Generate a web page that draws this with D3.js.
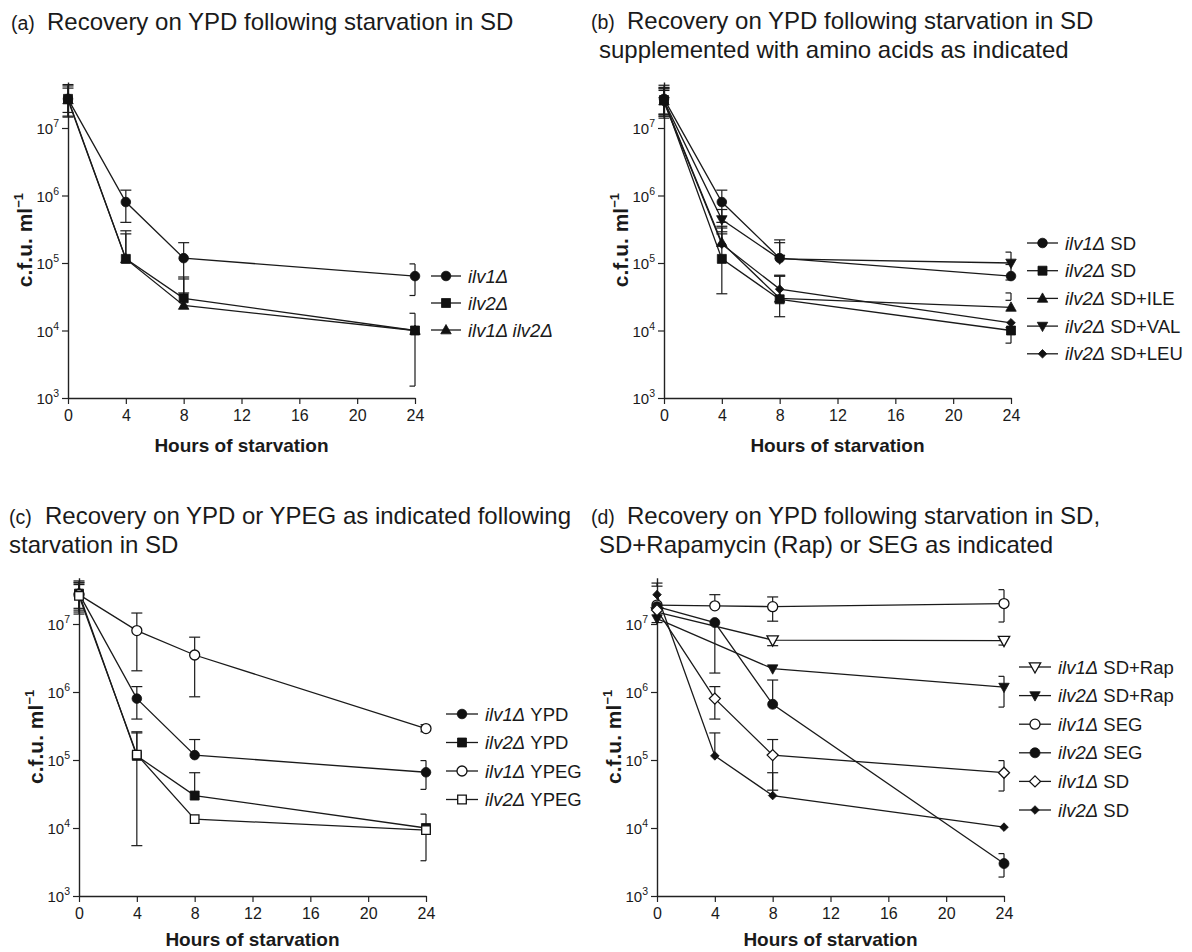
<!DOCTYPE html>
<html><head><meta charset="utf-8">
<script src="https://cdn.jsdelivr.net/npm/d3@7"></script>
<style>
body{margin:0;background:#fff}
text{font-family:"Liberation Sans",Arial,sans-serif;fill:#1a1a1a}
</style>
</head><body>
<svg id="c" width="1192" height="952"></svg>
<script>
// ---------- shared ----------
const hours = [0, 4, 8, 24];
const hoursRap = [0, 8, 24];
const xTicks = [0, 4, 8, 12, 16, 20, 24];
const yTickExps = [3, 4, 5, 6, 7];
const xLabel = "Hours of starvation";

// ---------- panel (a) ----------
const aTag = "(a)";
const aTitle = ["Recovery on YPD following starvation in SD"];
const a_ilv1    = [2.7e7, 8.0e5, 1.18e5, 6.4e4];
const a_ilv1_hi = [4.2e7, 1.2e6, 2.0e5, 9.7e4];
const a_ilv1_lo = [1.5e7, 4.0e5, 3.6e4, 3.3e4];
const a_ilv2    = [2.7e7, 1.15e5, 3.0e4, 1.0e4];
const a_ilv2_hi = [3.9e7, 3.0e5, 6.2e4, 1.8e4];
const a_ilv2_lo = [1.45e7, null, null, 1.5e3];
const a_dbl     = [2.6e7, 1.15e5, 2.35e4, 1.0e4];
const a_dbl_hi  = [4.4e7, 2.7e5, 5.8e4, null];
const a_dbl_lo  = [1.7e7, null, null, null];

// ---------- panel (b) ----------
const bTag = "(b)";
const bTitle = ["Recovery on YPD following starvation in SD", "supplemented with amino acids as indicated"];
const b_ilv1    = [2.7e7, 8.0e5, 1.18e5, 6.4e4];
const b_ilv1_hi = [4.3e7, 1.2e6, 2.2e5, 9.5e4];
const b_ilv1_lo = [1.5e7, 4.0e5, null, 5.6e4];
const b_ilv2    = [2.6e7, 1.15e5, 2.9e4, 1.0e4];
const b_ilv2_hi = [4.0e7, 3.5e5, 6.6e4, 1.1e4];
const b_ilv2_lo = [1.4e7, 3.5e4, 1.6e4, 6.5e3];
const b_ile     = [2.5e7, 2.0e5, 3.0e4, 2.2e4];
const b_ile_hi  = [3.8e7, 3.3e5, 6.4e4, 3.6e4];
const b_ile_lo  = [1.5e7, null, null, 2.8e4];
const b_val     = [2.5e7, 4.4e5, 1.15e5, 1.0e5];
const b_val_hi  = [3.9e7, 6.2e5, 2.0e5, 1.45e5];
const b_val_lo  = [1.6e7, 2.9e5, null, null];
const b_leu     = [2.4e7, 1.9e5, 4.1e4, 1.3e4];
const b_leu_hi  = [3.6e7, 2.7e5, 6.4e4, null];
const b_leu_lo  = [1.6e7, null, null, null];

// ---------- panel (c) ----------
const cTag = "(c)";
const cTitle = ["Recovery on YPD or YPEG as indicated following", "starvation in SD"];
const c_ypd1    = [2.8e7, 8.0e5, 1.18e5, 6.6e4];
const c_ypd1_hi = [4.3e7, 1.2e6, 2.0e5, 9.8e4];
const c_ypd1_lo = [1.5e7, 4.0e5, null, 3.7e4];
const c_ypd2    = [2.8e7, 1.15e5, 3.0e4, 1.0e4];
const c_ypd2_hi = [4.0e7, 2.5e5, 6.5e4, 1.6e4];
const c_ypd2_lo = [1.4e7, 5.5e3, null, 3.3e3];
const c_ypeg1    = [2.7e7, 8.0e6, 3.5e6, 2.9e5];
const c_ypeg1_hi = [4.1e7, 1.45e7, 6.4e6, 3.3e5];
const c_ypeg1_lo = [1.6e7, 2.05e6, 8.5e5, 2.6e5];
const c_ypeg2    = [2.6e7, 1.2e5, 1.35e4, 9.3e3];
const c_ypeg2_hi = [3.8e7, 2.6e5, null, null];
const c_ypeg2_lo = [1.7e7, null, null, null];

// ---------- panel (d) ----------
const dTag = "(d)";
const dTitle = ["Recovery on YPD following starvation in SD,", "SD+Rapamycin (Rap) or SEG as indicated"];
const d_rap1    = [1.5e7, 5.8e6, 5.7e6];
const d_rap1_hi = [null, null, null];
const d_rap1_lo = [null, 4.8e6, 4.9e6];
const d_rap2    = [1.2e7, 2.2e6, 1.18e6];
const d_rap2_hi = [null, null, 1.7e6];
const d_rap2_lo = [1.05e7, null, 6.0e5];
const d_seg1    = [1.9e7, 1.85e7, 1.8e7, 2.0e7];
const d_seg1_hi = [null, 2.7e7, 2.5e7, 3.2e7];
const d_seg1_lo = [null, null, 1.1e7, 1.07e7];
const d_seg2    = [1.8e7, 1.05e7, 6.6e5, 3.0e3];
const d_seg2_hi = [null, null, 1.5e6, 4.2e3];
const d_seg2_lo = [null, 1.9e6, null, 1.9e3];
const d_sd1     = [1.6e7, 8.0e5, 1.18e5, 6.5e4];
const d_sd1_hi  = [null, 1.2e6, 2.0e5, 9.8e4];
const d_sd1_lo  = [null, 4.0e5, 3.6e4, 3.5e4];
const d_sd2     = [2.7e7, 1.15e5, 3.0e4, 1.03e4];
const d_sd2_hi  = [4.0e7, 2.5e5, 6.5e4, null];
const d_sd2_lo  = [3.6e7, null, null, null];

// ---------- drawing ----------
const svg = d3.select("#c");
const TOPEXP = 7.68;

function markerPath(type, r) {
  const p = d3.path();
  if (type === "circle") { p.arc(0, 0, r, 0, 2 * Math.PI); }
  else if (type === "square") { p.rect(-r, -r, 2 * r, 2 * r); }
  else if (type === "tri") { p.moveTo(0, -r); p.lineTo(r * 0.95, r * 0.7); p.lineTo(-r * 0.95, r * 0.7); p.closePath(); }
  else if (type === "tridown") { p.moveTo(0, r); p.lineTo(r * 0.95, -r * 0.7); p.lineTo(-r * 0.95, -r * 0.7); p.closePath(); }
  else if (type === "diamond") { p.moveTo(0, -r); p.lineTo(r, 0); p.lineTo(0, r); p.lineTo(-r, 0); p.closePath(); }
  return p.toString();
}

function drawMarker(g, type, filled, r, cx, cy) {
  g.append("path").attr("d", markerPath(type, r))
    .attr("transform", `translate(${cx},${cy})`)
    .attr("fill", filled ? "#111" : "#fff")
    .attr("stroke", "#111").attr("stroke-width", filled ? 0.8 : 1.3);
}

function drawPanel(cfg) {
  const D = cfg.decade;
  const yTop = cfg.y3 - (TOPEXP - 3) * D;
  const x = d3.scaleLinear().domain([0, 24]).range([cfg.x0, cfg.x24]);
  const y = d3.scaleLog().domain([1e3, Math.pow(10, TOPEXP)]).range([cfg.y3, yTop]);
  const g = svg.append("g");

  // titles
  const T = cfg.title;
  g.append("text").attr("x", T.tagX).attr("y", T.y).style("font-size", "19.5px").text(T.tag);
  T.lines.forEach((s, i) => {
    g.append("text").attr("x", i === 0 ? T.x1 : T.x2).attr("y", T.y + i * 28.5)
      .style("font-size", "24px").text(s);
  });

  // x axis
  const xa = g.append("g").attr("transform", `translate(0,${cfg.y3})`)
    .call(d3.axisBottom(x).tickValues(xTicks).tickSizeInner(6).tickSizeOuter(0).tickPadding(6));
  xa.select(".domain").attr("stroke", "#222").attr("stroke-width", 1.4);
  xa.selectAll(".tick line").attr("stroke", "#222").attr("stroke-width", 1.2);
  xa.selectAll(".tick text").style("font-size", "16px").style("font-family", "'Liberation Sans',Arial,sans-serif").attr("fill", "#1a1a1a");

  // y axis
  const ya = g.append("g").attr("transform", `translate(${cfg.x0},0)`)
    .call(d3.axisLeft(y).tickValues(yTickExps.map(e => Math.pow(10, e))).tickFormat("").tickSizeInner(6).tickSizeOuter(0));
  ya.select(".domain").attr("stroke", "#222").attr("stroke-width", 1.4);
  ya.selectAll(".tick line").attr("stroke", "#222").attr("stroke-width", 1.2);
  yTickExps.forEach(e => {
    const t = g.append("text").attr("x", cfg.x0 - 9).attr("y", y(Math.pow(10, e)) + 6)
      .attr("text-anchor", "end").style("font-size", "15px");
    t.append("tspan").text("10");
    t.append("tspan").attr("dy", -7).style("font-size", "10.5px").text(String(e));
  });

  // axis titles
  g.append("text").attr("x", (cfg.x0 + cfg.x24) / 2).attr("y", cfg.y3 + cfg.xlOff)
    .attr("text-anchor", "middle").style("font-size", "19px").style("font-weight", "bold").text(xLabel);
  const yl = g.append("text").attr("text-anchor", "middle")
    .attr("transform", `translate(${cfg.x0 - 36},${(cfg.y3 + yTop) / 2}) rotate(-90)`)
    .style("font-size", "21px").style("font-weight", "bold");
  yl.append("tspan").text("c.f.u. ml");
  yl.append("tspan").attr("dy", -9).style("font-size", "13px").text("\u22121");

  const line = d3.line().x(d => x(d[0])).y(d => y(d[1]));
  const xr = cfg.x24;

  // lines
  cfg.series.forEach(s => {
    const pts = s.x.map((h, i) => [h, s.v[i]]);
    g.append("path").attr("d", line(pts)).attr("fill", "none").attr("stroke", "#1a1a1a").attr("stroke-width", 1.3);
  });
  // error bars
  cfg.series.forEach(s => {
    s.x.forEach((h, i) => {
      const cx = x(h);
      const hi = s.hi[i], lo = s.lo[i];
      if (hi == null && lo == null) return;
      const y1 = y(hi != null ? hi : s.v[i]);
      const y2 = y(lo != null ? lo : s.v[i]);
      g.append("line").attr("x1", cx).attr("x2", cx).attr("y1", y1).attr("y2", y2)
        .attr("stroke", "#1a1a1a").attr("stroke-width", 1.2);
      [hi, lo].forEach(val => {
        if (val == null) return;
        g.append("line").attr("x1", cx - 5.5).attr("x2", Math.min(cx + 5.5, xr)).attr("y1", y(val)).attr("y2", y(val))
          .attr("stroke", "#1a1a1a").attr("stroke-width", 1.2);
      });
    });
  });
  // markers
  cfg.series.forEach(s => {
    s.x.forEach((h, i) => drawMarker(g, s.m, s.f, s.r, x(h), y(s.v[i])));
  });

  // legend
  const L = cfg.legend;
  cfg.series.forEach((s, i) => {
    const ly = L.y0 + i * L.dy;
    g.append("line").attr("x1", L.x1).attr("x2", L.x2).attr("y1", ly).attr("y2", ly)
      .attr("stroke", "#1a1a1a").attr("stroke-width", 1.3);
    drawMarker(g, s.m, s.f, s.r, (L.x1 + L.x2) / 2, ly);
    const t = g.append("text").attr("x", L.tx).attr("y", ly + 6.5).style("font-size", "18.5px");
    t.append("tspan").style("font-style", "italic").text(s.label[0]);
    if (s.label[1]) t.append("tspan").text(s.label[1]);
  });
}

drawPanel({
  x0: 68, x24: 415, y3: 398, decade: 67.5, xlOff: 54,
  title: {tag: aTag, tagX: 11, x1: 47, x2: 47, y: 30, lines: aTitle},
  legend: {x1: 431, x2: 461, tx: 468, y0: 276, dy: 27},
  series: [
    {label: ["ilv1\u0394", ""], m: "circle", f: true, r: 4.8, x: hours, v: a_ilv1, hi: a_ilv1_hi, lo: a_ilv1_lo},
    {label: ["ilv2\u0394", ""], m: "square", f: true, r: 4.5, x: hours, v: a_ilv2, hi: a_ilv2_hi, lo: a_ilv2_lo},
    {label: ["ilv1\u0394 ilv2\u0394", ""], m: "tri", f: true, r: 5.5, x: hours, v: a_dbl, hi: a_dbl_hi, lo: a_dbl_lo}
  ]
});

drawPanel({
  x0: 664, x24: 1011, y3: 398, decade: 67.5, xlOff: 54,
  title: {tag: bTag, tagX: 591, x1: 627, x2: 599, y: 29, lines: bTitle},
  legend: {x1: 1027, x2: 1058, tx: 1065, y0: 243, dy: 27.7},
  series: [
    {label: ["ilv1\u0394", " SD"], m: "circle", f: true, r: 4.8, x: hours, v: b_ilv1, hi: b_ilv1_hi, lo: b_ilv1_lo},
    {label: ["ilv2\u0394", " SD"], m: "square", f: true, r: 4.5, x: hours, v: b_ilv2, hi: b_ilv2_hi, lo: b_ilv2_lo},
    {label: ["ilv2\u0394", " SD+ILE"], m: "tri", f: true, r: 5.5, x: hours, v: b_ile, hi: b_ile_hi, lo: b_ile_lo},
    {label: ["ilv2\u0394", " SD+VAL"], m: "tridown", f: true, r: 5.5, x: hours, v: b_val, hi: b_val_hi, lo: b_val_lo},
    {label: ["ilv2\u0394", " SD+LEU"], m: "diamond", f: true, r: 4.3, x: hours, v: b_leu, hi: b_leu_hi, lo: b_leu_lo}
  ]
});

drawPanel({
  x0: 79, x24: 426, y3: 896, decade: 68, xlOff: 50,
  title: {tag: cTag, tagX: 9, x1: 45, x2: 9, y: 524, lines: cTitle},
  legend: {x1: 446, x2: 478, tx: 485, y0: 714, dy: 28.5},
  series: [
    {label: ["ilv1\u0394", " YPD"], m: "circle", f: true, r: 4.8, x: hours, v: c_ypd1, hi: c_ypd1_hi, lo: c_ypd1_lo},
    {label: ["ilv2\u0394", " YPD"], m: "square", f: true, r: 4.5, x: hours, v: c_ypd2, hi: c_ypd2_hi, lo: c_ypd2_lo},
    {label: ["ilv1\u0394", " YPEG"], m: "circle", f: false, r: 5, x: hours, v: c_ypeg1, hi: c_ypeg1_hi, lo: c_ypeg1_lo},
    {label: ["ilv2\u0394", " YPEG"], m: "square", f: false, r: 4.3, x: hours, v: c_ypeg2, hi: c_ypeg2_hi, lo: c_ypeg2_lo}
  ]
});

drawPanel({
  x0: 657, x24: 1004, y3: 896, decade: 68, xlOff: 50,
  title: {tag: dTag, tagX: 591, x1: 627, x2: 599, y: 524, lines: dTitle},
  legend: {x1: 1019, x2: 1051, tx: 1058, y0: 667, dy: 28.6},
  series: [
    {label: ["ilv1\u0394", " SD+Rap"], m: "tridown", f: false, r: 6, x: hoursRap, v: d_rap1, hi: d_rap1_hi, lo: d_rap1_lo},
    {label: ["ilv2\u0394", " SD+Rap"], m: "tridown", f: true, r: 5.5, x: hoursRap, v: d_rap2, hi: d_rap2_hi, lo: d_rap2_lo},
    {label: ["ilv1\u0394", " SEG"], m: "circle", f: false, r: 5, x: hours, v: d_seg1, hi: d_seg1_hi, lo: d_seg1_lo},
    {label: ["ilv2\u0394", " SEG"], m: "circle", f: true, r: 5, x: hours, v: d_seg2, hi: d_seg2_hi, lo: d_seg2_lo},
    {label: ["ilv1\u0394", " SD"], m: "diamond", f: false, r: 5.5, x: hours, v: d_sd1, hi: d_sd1_hi, lo: d_sd1_lo},
    {label: ["ilv2\u0394", " SD"], m: "diamond", f: true, r: 4.3, x: hours, v: d_sd2, hi: d_sd2_hi, lo: d_sd2_lo}
  ]
});
</script>
</body></html>
